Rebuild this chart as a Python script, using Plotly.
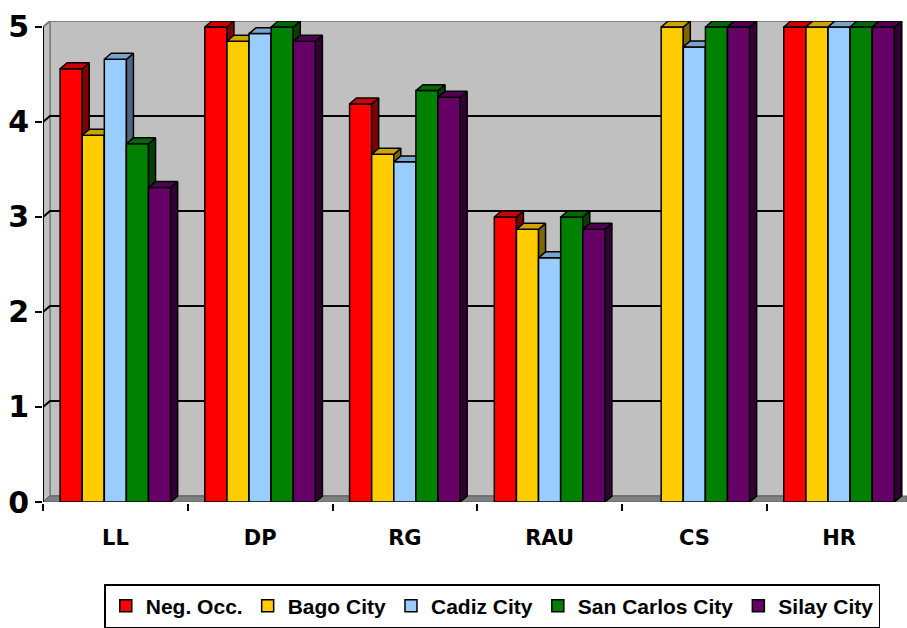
import plotly.graph_objects as go

# Category labels and series values (mean ratings)
categories = ["LL", "DP", "RG", "RAU", "CS", "HR"]
series_names = ["Neg. Occ.", "Bago City", "Cadiz City", "San Carlos City", "Silay City"]
neg_occ = [4.56, 5.00, 4.19, 3.00, None, 5.00]
bago_city = [3.86, 4.85, 3.66, 2.87, 5.00, 5.00]
cadiz_city = [4.66, 4.93, 3.58, 2.57, 4.79, 5.00]
san_carlos_city = [3.77, 5.00, 4.33, 3.00, 5.00, 5.00]
silay_city = [3.31, 4.85, 4.26, 2.87, 5.00, 5.00]
y_ticks = [0, 1, 2, 3, 4, 5]

series_values = [neg_occ, bago_city, cadiz_city, san_carlos_city, silay_city]
colors = ["#FF0000", "#FFCC00", "#99CCFF", "#008000", "#660066"]

# geometry of the pseudo-3D look (in axis units)
X_MIN, X_MAX = -0.5, 5.469
Y_TOP_VAL = 5.0
PX_PER_X = 864 / (X_MAX - X_MIN)
PX_PER_Y = 95.6
DX = 7 / PX_PER_X          # depth offset, horizontal
DY = 6 / PX_PER_Y          # depth offset, vertical
Y_MAX = Y_TOP_VAL + DY
GROUP_HALF = 0.382
BAR_W = 2 * GROUP_HALF / len(series_values)


def shade(hex_color, f):
    h = hex_color.lstrip("#")
    r, g, b = (int(h[i:i + 2], 16) for i in (0, 2, 4))
    return "#%02X%02X%02X" % (int(r * f), int(g * f), int(b * f))


fig = go.Figure()

for i, (name, vals, col) in enumerate(zip(series_names, series_values, colors)):
    offset = -GROUP_HALF + i * BAR_W
    fig.add_trace(go.Bar(
        x=list(range(len(categories))), y=vals, name="<b>%s</b>" % name,
        width=BAR_W, offset=offset,
        marker=dict(color=col, line=dict(color="black", width=1.5)),
        zorder=2 * i, hoverinfo="skip",
    ))
    top_x, top_y, side_x, side_y = [], [], [], []
    for c, v in enumerate(vals):
        if v is None:
            continue
        x0 = c + offset
        x1 = x0 + BAR_W
        top_x += [x0, x1, x1 + DX, x0 + DX, x0, None]
        top_y += [v, v, v + DY, v + DY, v, None]
        side_x += [x1, x1, x1 + DX, x1 + DX, x1, None]
        side_y += [0, v, v + DY, DY, 0, None]
    for fx, fy, f in ((side_x, side_y, 0.5), (top_x, top_y, 0.8)):
        fig.add_trace(go.Scatter(
            x=fx, y=fy, mode="lines", fill="toself",
            fillcolor=shade(col, f), line=dict(color="black", width=1.5),
            showlegend=False, hoverinfo="skip", zorder=2 * i + 1,
        ))

shapes = []
# back wall
shapes.append(dict(type="rect", xref="x", yref="y", layer="below",
                   x0=X_MIN + DX, x1=X_MAX - 0.035, y0=DY, y1=Y_TOP_VAL + DY,
                   fillcolor="#C0C0C0", line=dict(color="#808080", width=2)))
# left side wall
shapes.append(dict(type="path", xref="x", yref="y", layer="below",
                   path="M %f,%f L %f,%f L %f,%f L %f,%f Z" % (
                       X_MIN, 0, X_MIN, Y_TOP_VAL, X_MIN + DX, Y_TOP_VAL + DY, X_MIN + DX, DY),
                   fillcolor="#C0C0C0", line=dict(color="#808080", width=1.5)))
# floor
shapes.append(dict(type="path", xref="x", yref="y", layer="below",
                   path="M %f,%f L %f,%f L %f,%f L %f,%f Z" % (
                       X_MIN, 0, X_MIN + DX, DY, X_MAX, DY, X_MAX, 0),
                   fillcolor="#808080", line=dict(color="#606060", width=1)))
# gridlines drawn on the side and back walls
for v in y_ticks[1:]:
    shapes.append(dict(type="path", xref="x", yref="y", layer="below",
                       path="M %f,%f L %f,%f L %f,%f" % (
                           X_MIN, v, X_MIN + DX, v + DY, X_MAX - 0.035, v + DY),
                       line=dict(color="#808080" if v == Y_TOP_VAL else "black", width=2)))
# front value axis line
shapes.append(dict(type="line", xref="x", yref="y", layer="above",
                   x0=X_MIN, x1=X_MIN, y0=0, y1=Y_TOP_VAL,
                   line=dict(color="black", width=2)))

fig.update_layout(
    width=907, height=628,
    margin=dict(l=43, r=0, t=21, b=123),
    paper_bgcolor="white", plot_bgcolor="white",
    barmode="overlay",
    shapes=shapes,
    showlegend=True,
    legend=dict(orientation="h", x=0.52, xanchor="center", y=-0.1715, yanchor="top",
                bordercolor="black", borderwidth=1.5, bgcolor="white",
                font=dict(family="Liberation Sans", size=21, color="black"),
                traceorder="normal", itemclick=False),
    xaxis=dict(range=[X_MIN, X_MAX], tickmode="array",
               tickvals=list(range(len(categories))),
               ticktext=["<b>%s</b>" % c for c in categories],
               ticks="outside", ticklen=16, tickcolor="rgba(0,0,0,0)",
               tickfont=dict(family="DejaVu Sans", size=21, color="black"),
               showgrid=False, zeroline=False,
               showline=True, linecolor="black", linewidth=2,
               minor=dict(tickmode="array",
                          tickvals=[c - 0.5 for c in range(len(categories))],
                          ticks="outside", ticklen=7, tickwidth=2, tickcolor="black",
                          showgrid=False)),
    yaxis=dict(range=[0, Y_MAX], tickmode="array", tickvals=y_ticks,
               ticktext=[str(t) for t in y_ticks],
               ticks="outside", ticklen=7, tickwidth=2, tickcolor="black",
               tickfont=dict(family="DejaVu Sans", size=30, color="black", weight="bold"),
               showgrid=False, zeroline=False, showline=False),
)

fig.write_html("out.html")
